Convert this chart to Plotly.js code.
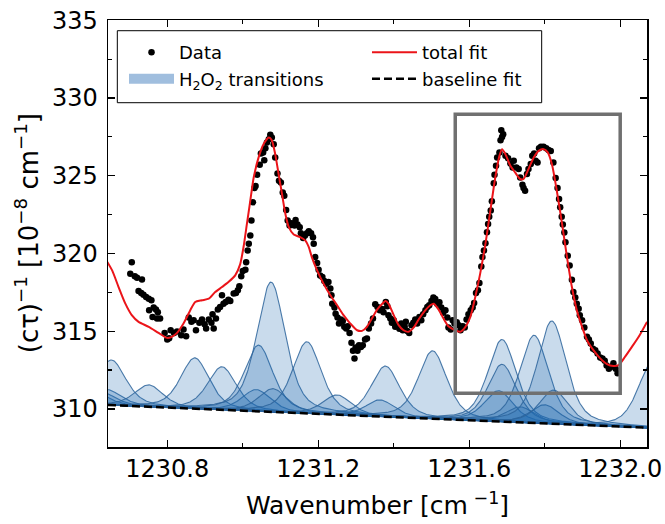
<!DOCTYPE html>
<html><head><meta charset="utf-8">
<script src="https://cdn.plot.ly/plotly-3.0.1.min.js"></script>
<style>html,body{margin:0;padding:0;background:#fff}</style>
</head><body>
<div id="chart" style="width:665px;height:524px"></div>
<script>
const dataX = [1230.702,1230.706,1230.714,1230.720,1230.724,1230.731,1230.733,1230.737,1230.744,1230.751,1230.752,1230.758,1230.761,1230.764,1230.770,1230.773,1230.775,1230.781,1230.793,1230.800,1230.805,1230.809,1230.818,1230.826,1230.837,1230.843,1230.850,1230.857,1230.864,1230.870,1230.876,1230.885,1230.892,1230.899,1230.903,1230.910,1230.917,1230.920,1230.923,1230.929,1230.934,1230.940,1230.945,1230.949,1230.955,1230.962,1230.967,1230.976,1230.982,1230.987,1230.991,1230.996,1231.000,1231.007,1231.009,1231.013,1231.016,1231.020,1231.023,1231.027,1231.031,1231.034,1231.038,1231.045,1231.048,1231.054,1231.057,1231.060,1231.064,1231.069,1231.073,1231.077,1231.082,1231.086,1231.092,1231.096,1231.101,1231.106,1231.110,1231.115,1231.119,1231.124,1231.130,1231.137,1231.140,1231.145,1231.151,1231.154,1231.160,1231.165,1231.170,1231.175,1231.181,1231.186,1231.188,1231.192,1231.197,1231.201,1231.205,1231.211,1231.216,1231.221,1231.227,1231.232,1231.235,1231.237,1231.243,1231.246,1231.251,1231.255,1231.260,1231.265,1231.269,1231.274,1231.278,1231.283,1231.288,1231.292,1231.296,1231.299,1231.304,1231.308,1231.313,1231.318,1231.324,1231.329,1231.334,1231.340,1231.345,1231.351,1231.357,1231.363,1231.369,1231.373,1231.379,1231.383,1231.386,1231.391,1231.395,1231.400,1231.404,1231.409,1231.415,1231.420,1231.424,1231.429,1231.432,1231.436,1231.441,1231.447,1231.452,1231.457,1231.462,1231.468,1231.473,1231.478,1231.484,1231.489,1231.494,1231.500,1231.505,1231.510,1231.515,1231.521,1231.526,1231.531,1231.537,1231.542,1231.545,1231.551,1231.556,1231.561,1231.567,1231.572,1231.577,1231.583,1231.588,1231.593,1231.598,1231.604,1231.609,1231.613,1231.618,1231.623,1231.627,1231.632,1231.635,1231.639,1231.643,1231.647,1231.650,1231.653,1231.657,1231.660,1231.665,1231.667,1231.671,1231.674,1231.680,1231.683,1231.685,1231.687,1231.690,1231.696,1231.703,1231.709,1231.715,1231.718,1231.725,1231.731,1231.735,1231.741,1231.744,1231.748,1231.753,1231.757,1231.763,1231.767,1231.772,1231.776,1231.781,1231.785,1231.790,1231.797,1231.804,1231.810,1231.816,1231.823,1231.829,1231.834,1231.838,1231.841,1231.845,1231.848,1231.852,1231.855,1231.861,1231.866,1231.872,1231.876,1231.881,1231.885,1231.890,1231.893,1231.899,1231.905,1231.912,1231.917,1231.922,1231.928,1231.934,1231.940,1231.947,1231.953,1231.959,1231.964,1231.970,1231.977,1231.982,1231.988,1231.993];
const dataY = [318.70,319.44,318.53,318.44,317.59,317.46,318.33,317.35,317.20,317.09,316.35,316.99,315.92,316.52,316.39,315.81,316.22,315.81,314.89,314.47,314.55,315.06,314.89,314.98,314.74,315.11,314.68,315.88,315.60,315.71,315.06,315.54,315.75,315.45,315.17,315.75,315.54,316.09,315.17,315.81,316.39,316.56,317.31,316.77,316.88,317.03,316.94,317.42,317.46,317.63,317.89,318.53,318.87,318.95,319.44,320.19,320.62,321.15,322.12,323.29,324.21,324.34,325.06,325.70,326.43,326.50,326.00,326.77,327.14,327.35,327.63,327.46,327.03,326.18,325.15,324.68,324.57,323.93,323.72,322.80,322.12,321.80,321.94,321.80,322.16,321.86,321.69,321.30,321.00,321.15,321.30,321.43,321.30,321.05,320.62,319.77,319.38,318.95,318.59,318.48,318.23,318.06,318.16,317.74,317.31,316.77,316.52,316.13,315.88,315.49,315.75,315.66,315.28,315.17,315.32,314.89,314.25,313.74,313.25,313.95,313.74,314.10,313.99,314.10,314.47,314.53,315.17,315.49,315.81,316.73,316.56,316.35,316.43,316.22,316.88,316.60,316.03,315.81,315.54,315.71,315.28,315.39,315.15,315.49,315.06,315.28,315.60,315.02,314.89,315.39,315.54,315.75,315.49,315.92,315.71,316.09,316.35,316.56,316.67,316.94,317.16,317.07,316.77,316.86,316.52,316.18,316.35,315.88,315.23,315.11,315.71,315.49,315.58,315.39,315.06,315.32,315.23,315.75,316.09,316.35,316.52,316.82,317.46,317.63,318.10,319.17,319.77,320.19,320.66,321.37,321.90,322.37,322.76,323.36,324.51,325.06,325.64,326.18,326.50,327.29,327.93,327.50,327.67,326.28,326.13,325.79,325.53,325.96,325.53,325.43,324.89,324.42,324.21,324.04,325.11,325.43,325.75,326.28,326.43,325.96,325.85,326.77,326.86,326.86,326.77,326.65,326.60,325.85,324.85,324.21,323.50,322.97,322.37,321.86,321.35,320.73,319.85,319.23,318.31,317.52,317.16,316.77,316.45,316.03,315.71,315.24,314.64,314.47,314.21,313.87,313.78,313.57,313.31,313.25,313.10,312.80,312.59,312.71,312.93,312.59,312.29];

const fitX = [1230.636,1230.654,1230.671,1230.689,1230.706,1230.724,1230.751,1230.777,1230.799,1230.812,1230.826,1230.843,1230.861,1230.874,1230.892,1230.910,1230.927,1230.945,1230.962,1230.980,1230.993,1231.002,1231.011,1231.020,1231.029,1231.042,1231.055,1231.069,1231.077,1231.086,1231.095,1231.104,1231.113,1231.122,1231.135,1231.152,1231.166,1231.175,1231.183,1231.197,1231.214,1231.232,1231.250,1231.267,1231.285,1231.303,1231.316,1231.329,1231.342,1231.356,1231.369,1231.378,1231.386,1231.400,1231.413,1231.426,1231.439,1231.453,1231.466,1231.484,1231.497,1231.506,1231.519,1231.532,1231.545,1231.563,1231.576,1231.590,1231.603,1231.616,1231.629,1231.643,1231.656,1231.669,1231.680,1231.687,1231.696,1231.709,1231.722,1231.735,1231.744,1231.757,1231.771,1231.784,1231.797,1231.808,1231.819,1231.832,1231.846,1231.859,1231.872,1231.885,1231.899,1231.912,1231.929,1231.947,1231.965,1231.982,1231.996,1232.013,1232.031,1232.049,1232.071];
const fitY = [319.66,318.91,317.84,316.77,316.03,315.60,315.28,314.89,314.57,314.64,314.89,315.49,316.35,316.88,316.99,317.09,317.52,317.84,318.16,318.59,319.30,320.40,321.90,323.40,324.89,326.18,327.03,327.46,327.29,326.39,325.11,323.83,322.54,321.69,321.22,321.05,320.83,320.41,319.77,318.91,318.06,317.31,316.67,316.03,315.49,315.06,315.02,315.28,315.81,316.39,316.75,316.94,316.77,316.03,315.39,315.06,314.96,315.24,315.75,316.35,316.67,316.77,316.39,315.81,315.32,315.06,314.96,315.28,315.92,317.20,318.70,320.62,322.76,324.89,326.28,326.71,326.39,325.64,325.20,324.79,324.79,325.43,326.18,326.60,326.71,326.50,325.75,324.04,321.90,319.77,317.84,316.35,315.28,314.42,313.78,313.25,312.88,312.76,312.82,313.36,313.99,314.64,315.60];

// baseline fit: end values
const baseX = [1230.643, 1232.071];
const baseY = [310.25, 308.79];

// H2O2 transitions: centre, peak height above baseline, FWHM
const lineCenter = [1230.600,1230.620,1230.640,1230.652,1230.751,1230.873,1230.945,1231.036,1231.042,1231.075,1231.080,1231.170,1231.250,1231.364,1231.378,1231.503,1231.678,1231.687,1231.687,1231.735,1231.772,1231.800,1231.819,1231.824,1232.085];
const lineHeight = [0.9,0.9,1.0,2.91,1.41,3.27,2.77,1.4,4.26,8.35,1.5,4.61,1.27,1.07,3.26,4.37,1.98,5.28,3.69,1.0,5.64,1.2,6.61,2.17,4.2];
const lineFwhm  = [0.09,0.09,0.09,0.09,0.09,0.09,0.09,0.09,0.09,0.09,0.09,0.09,0.09,0.09,0.09,0.09,0.09,0.09,0.09,0.09,0.09,0.09,0.09,0.09,0.09];

const xTickVals = [1230.8, 1231.2, 1231.6, 1232.0];
const xTickText = ['1230.8', '1231.2', '1231.6', '1232.0'];
const xMinorVals = [1231.0, 1231.4, 1231.8];
const yTickVals = [310, 315, 320, 325, 330, 335];
const yTickText = ['310', '315', '320', '325', '330', '335'];
const yMinorVals = [312.5, 317.5, 322.5, 327.5, 332.5];

const zoomBoxX = [1231.563, 1232.0];
const zoomBoxY = [311.0, 328.95];

// ---- build ----
const FONT = 'DejaVu Sans, sans-serif';
function baseAt(x) {
  return baseY[0] + (baseY[1] - baseY[0]) * (x - baseX[0]) / (baseX[1] - baseX[0]);
}
function profile(x, c, h, w) {
  const u = (x - c) / w;
  return h * (0.5 * Math.exp(-4 * Math.LN2 * u * u) + 0.5 / (1 + 4 * u * u));
}
const grid = [];
for (let i = 0; i <= 760; i++) grid.push(1230.60 + i * 0.002);
const gridBase = grid.map(baseAt);

const traces = [];
lineCenter.forEach((c, k) => {
  traces.push({x: grid, y: gridBase, mode: 'lines', line: {width: 0}, showlegend: false, hoverinfo: 'skip'});
  traces.push({x: grid, y: grid.map((x, i) => gridBase[i] + profile(x, c, lineHeight[k], lineFwhm[k])),
    mode: 'lines', fill: 'tonexty', fillcolor: 'rgba(31,105,175,0.24)',
    line: {color: 'rgba(45,100,155,0.85)', width: 1.1}, showlegend: false, hoverinfo: 'skip'});
});
// legend-only entry for the transitions (no data drawn)
traces.push({x: [null], y: [null], mode: 'lines', line: {width: 15, color: 'rgb(160,190,222)'},
  name: 'H<sub>2</sub>O<sub>2</sub> transitions', legend: 'legend', legendgroup: 'g2', legendrank: 2});
traces.push({x: baseX, y: baseY, mode: 'lines', line: {color: 'black', width: 2.5, dash: '8px,4px'},
  name: 'baseline fit', legend: 'legend2', legendgroup: 'g4', legendrank: 2});
traces.push({x: dataX, y: dataY, mode: 'markers', marker: {color: 'black', size: 6.5},
  name: 'Data', legend: 'legend', legendgroup: 'g1', legendrank: 1});
traces.push({x: fitX, y: fitY, mode: 'lines', line: {color: 'rgb(235,20,25)', width: 2, shape: 'spline', smoothing: 0.6},
  name: 'total fit', legend: 'legend2', legendgroup: 'g3', legendrank: 1});

const axisCommon = {
  showline: true, linecolor: 'black', linewidth: 1.5, mirror: 'ticks',
  ticks: 'inside', ticklen: 7, tickwidth: 1.3, tickcolor: 'black',
  showgrid: false, zeroline: false,
  tickfont: {family: FONT, size: 24, color: 'black'}
};
const legendCommon = {
  orientation: 'v', xanchor: 'left', yanchor: 'top', traceorder: 'normal',
  borderwidth: 0, bgcolor: 'rgba(0,0,0,0)', tracegroupgap: 3, itemwidth: 45,
  font: {family: FONT, size: 18, color: 'black'}
};

const layout = {
  width: 665, height: 524,
  margin: {l: 108, r: 18, t: 20, b: 77},
  paper_bgcolor: 'white', plot_bgcolor: 'white',
  font: {family: FONT, color: 'black'},
  xaxis: Object.assign({}, axisCommon, {
    range: [1230.643, 1232.071], tickmode: 'array', tickvals: xTickVals, ticktext: xTickText,
    minor: {tickvals: xMinorVals, ticks: 'inside', ticklen: 4, tickwidth: 1.2, tickcolor: 'black', showgrid: false},
    title: {text: 'Wavenumber [cm<sup> −1</sup>]', font: {family: FONT, size: 25, color: 'black'}, standoff: 14}
  }),
  yaxis: Object.assign({}, axisCommon, {
    range: [307.55, 335.02], tickmode: 'array', tickvals: yTickVals, ticktext: yTickText,
    minor: {tickvals: yMinorVals, ticks: 'inside', ticklen: 4, tickwidth: 1.2, tickcolor: 'black', showgrid: false},
    ticklabelstandoff: 4
  }),
  showlegend: true,
  legend: Object.assign({}, legendCommon, {x: 0.0297, y: 0.967}),
  legend2: Object.assign({}, legendCommon, {x: 0.4805, y: 0.967}),
  shapes: [
    {type: 'rect', xref: 'paper', yref: 'paper', x0: 0.0173, x1: 0.8046, y0: 0.8063, y1: 0.9749,
     line: {color: 'black', width: 1}, fillcolor: 'white', layer: 'above'},
    {type: 'rect', xref: 'x', yref: 'y', x0: zoomBoxX[0], x1: zoomBoxX[1], y0: zoomBoxY[0], y1: zoomBoxY[1],
     line: {color: '#707070', width: 3.5}, layer: 'above'}
  ],
  annotations: [{
    xref: 'paper', yref: 'paper', x: -0.150, y: 0.501, xanchor: 'center', yanchor: 'middle',
    textangle: -90, showarrow: false,
    text: '(cτ)<sup>−1</sup> [10<sup>−8</sup> cm<sup>−1</sup>]',
    font: {family: FONT, size: 26, color: 'black'}
  }]
};

Plotly.newPlot('chart', traces, layout, {displayModeBar: false, staticPlot: true});
</script>
</body></html>
